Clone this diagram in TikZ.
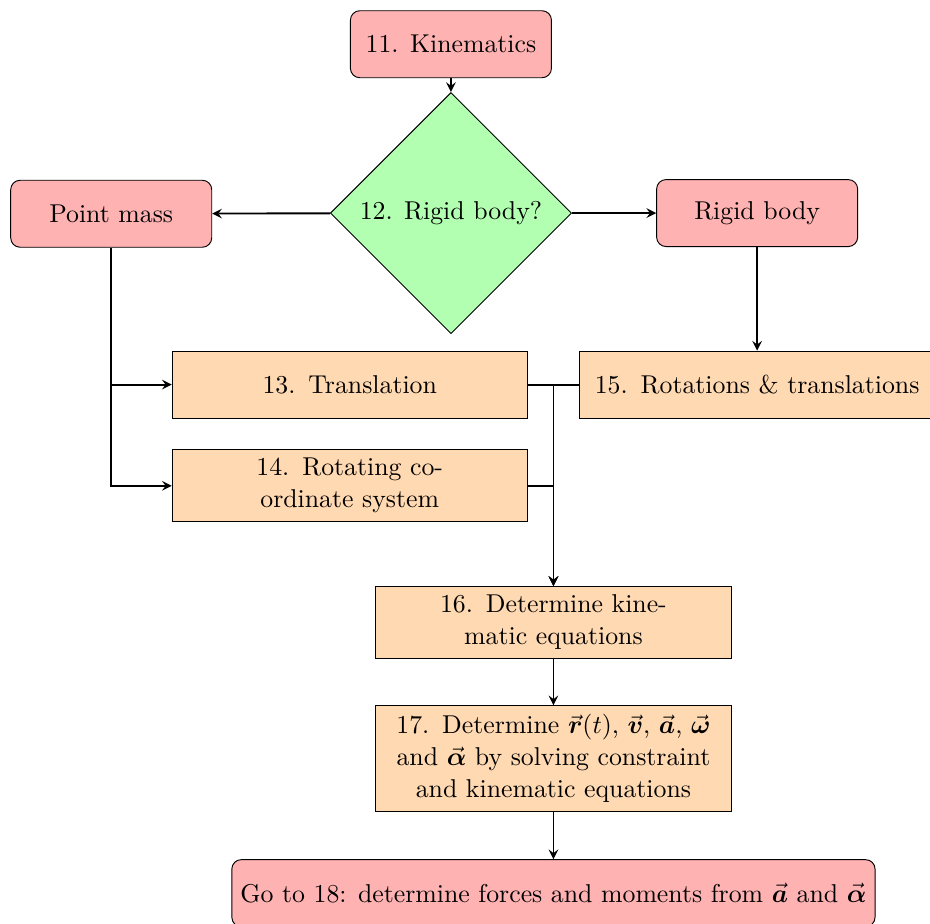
\documentclass[tikz,border=0pt,11pt]{standalone}
\usepackage{amsmath}
\usepackage{amssymb}
\usepackage{tikz}
\usetikzlibrary{shapes.geometric, arrows, positioning}

\tikzset{
  startstop/.style={rectangle, rounded corners, minimum width=3cm, minimum height=1cm, text centered, draw=black, fill=red!30},
  decision/.style={diamond, minimum width=3.6cm, minimum height=3.6cm, text centered, draw=black, fill=green!30},
  process/.style={rectangle, minimum width=5.3cm, minimum height=1cm, text width=5cm, text centered, draw=black, fill=orange!30},
  arrow/.style={thick, ->, >=stealth}
}

\begin{document}
\begin{tikzpicture}
\useasboundingbox (0,0) rectangle (13.88,-13.79);
% Nodes
\node[startstop] (kin) at (6.73,-0.66) {11. Kinematics};
\node[decision] (rigid) at (6.73,-3.18) {12. Rigid body?};
\node[startstop] (point) at (1.66,-3.19) {Point mass};
\node[startstop] (body) at (11.3,-3.18) {Rigid body};
\node[process] (trans) at (5.22,-5.74) {13. Translation};
\node[process] (rotrans) at (11.3,-5.74) {15. Rotations \& translations};
\node[process] (rotcs) at (5.22,-7.25) {14. Rotating coordinate system};
\node[process] (keq) at (8.26,-9.29) {16. Determine kinematic equations};
\node[process] (solve) at (8.26,-11.32) {17. Determine $\vec{\boldsymbol{r}}(t)$, $\vec{\boldsymbol{v}}$, $\vec{\boldsymbol{a}}$, $\vec{\boldsymbol{\omega}}$ and $\vec{\boldsymbol{\alpha}}$ by solving constraint and kinematic equations};
\node[startstop] (next) at (8.26,-13.33) {Go to 18: determine forces and moments from $\vec{\boldsymbol{a}}$ and $\vec{\boldsymbol{\alpha}}$};

% Arrows
\draw[arrow] (kin) -- (rigid);
\draw[arrow] (rigid) -- (point);
\draw[arrow] (rigid) -- (body);
\draw[arrow] (point.south) |- (trans.west);
\draw[arrow] (point.south) |- (rotcs.west);
\draw[arrow] (body) -- (rotrans);
\draw[arrow] (trans.east) -| (keq.north);
\draw[arrow] (rotrans.west) -| (keq.north);
\draw[arrow] (rotcs.east) -| (keq.north);
\draw[arrow] (keq) -- (solve);
\draw[arrow] (solve) -- (next);
\end{tikzpicture}
\end{document}
